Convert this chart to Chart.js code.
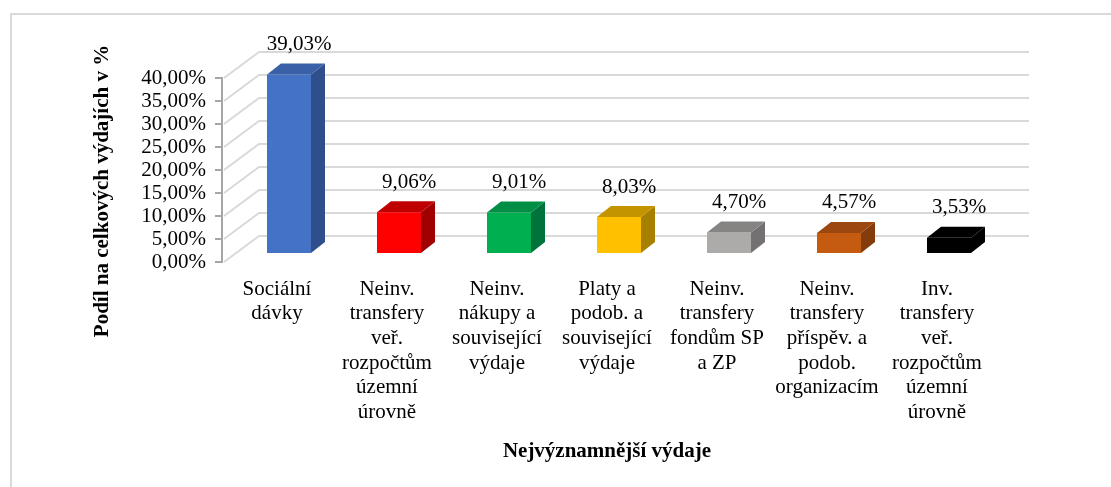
<!DOCTYPE html>
<html>
<head>
<meta charset="utf-8">
<script src="https://cdn.jsdelivr.net/npm/chart.js@4"></script>
<style>
  html, body { margin: 0; padding: 0; background: #fff; }
  #wrap { position: relative; width: 1111px; height: 487px; overflow: hidden; }
</style>
</head>
<body>
<div id="wrap"><canvas id="myChart" width="1111" height="487"></canvas></div>
<script>
'use strict'

// data
const categories = [
  ['Sociální', 'dávky'],
  ['Neinv.', 'transfery', 'veř.', 'rozpočtům', 'územní', 'úrovně'],
  ['Neinv.', 'nákupy a', 'související', 'výdaje'],
  ['Platy a', 'podob. a', 'související', 'výdaje'],
  ['Neinv.', 'transfery', 'fondům SP', 'a ZP'],
  ['Neinv.', 'transfery', 'příspěv. a', 'podob.', 'organizacím'],
  ['Inv.', 'transfery', 'veř.', 'rozpočtům', 'územní', 'úrovně']
];
const shares = [39.03, 9.06, 9.01, 8.03, 4.70, 4.57, 3.53];
const yTickValues = [0, 5, 10, 15, 20, 25, 30, 35, 40];

const yTitle = 'Podíl na celkových výdajích v %';
const xTitle = 'Nejvýznamnější výdaje';

// colours of the boxes: front, side, top
const frontColors = ['#4472c4', '#ff0000', '#00b050', '#ffc000', '#adabaa', '#c55a11', '#000000'];
const sideColors  = ['#2f4f8c', '#a00000', '#00733a', '#a88000', '#737171', '#843c0c', '#000000'];
const topColors   = ['#3a60a8', '#c00000', '#008f44', '#c49400', '#868483', '#9c4710', '#000000'];

const SERIF = "'Liberation Serif', 'Times New Roman', serif";

// fake 3D geometry (pixels)
const DEPTH_X = 37, DEPTH_Y = -26;   // back wall
const SHIFT_X = 12, SHIFT_Y = -8;    // bars stand in the middle of the floor
const BOX_X = 14, BOX_Y = -11;       // depth of one bar

function pct(v) {
    return v.toFixed(2).replace('.', ',') + '%';
}

const box3d = {
    id: 'box3d',
    beforeDraw(chart) {
        const ctx = chart.ctx;
        ctx.save();
        ctx.strokeStyle = '#d9d9d9';
        ctx.lineWidth = 2;
        ctx.strokeRect(11, 14, 1300, 700);
        ctx.restore();
    },
    beforeDatasetsDraw(chart) {
        const {ctx, chartArea: a, scales: {y}} = chart;
        ctx.save();
        ctx.strokeStyle = '#d9d9d9';
        ctx.lineWidth = 2;
        yTickValues.forEach(v => {
            const py = y.getPixelForValue(v);
            ctx.beginPath();
            ctx.moveTo(a.left + 2, py);
            ctx.lineTo(a.left + DEPTH_X, py + DEPTH_Y);
            ctx.lineTo(a.right + DEPTH_X, py + DEPTH_Y);
            ctx.stroke();
        });
        ctx.restore();

        // front faces get drawn by chart.js, moved back a bit
        ctx.save();
        ctx.translate(SHIFT_X, SHIFT_Y);
    },
    afterDatasetsDraw(chart) {
        const ctx = chart.ctx;
        const bars = chart.getDatasetMeta(0).data;

        bars.forEach((bar, i) => {
            const {x, y, base, width} = bar.getProps(['x', 'y', 'base', 'width'], true);
            const l = x - width / 2, r = x + width / 2;

            ctx.fillStyle = sideColors[i];
            ctx.beginPath();
            ctx.moveTo(r, y);
            ctx.lineTo(r + BOX_X, y + BOX_Y);
            ctx.lineTo(r + BOX_X, base + BOX_Y);
            ctx.lineTo(r, base);
            ctx.closePath();
            ctx.fill();

            ctx.fillStyle = topColors[i];
            ctx.beginPath();
            ctx.moveTo(l, y);
            ctx.lineTo(r, y);
            ctx.lineTo(r + BOX_X, y + BOX_Y);
            ctx.lineTo(l + BOX_X, y + BOX_Y);
            ctx.closePath();
            ctx.fill();
        });
        ctx.restore();

        // value labels
        ctx.save();
        ctx.fillStyle = '#000';
        ctx.font = '21px ' + SERIF;
        ctx.textAlign = 'center';
        ctx.textBaseline = 'middle';
        bars.forEach((bar, i) => {
            ctx.fillText(pct(shares[i]), bar.x + 22, bar.y + SHIFT_Y + BOX_Y - 19);
        });

        // y axis title
        ctx.font = 'bold 21px ' + SERIF;
        ctx.translate(103, 191);
        ctx.rotate(-Math.PI / 2);
        ctx.fillText(yTitle, 0, 0);
        ctx.restore();
    }
};

const ctxChart = document.getElementById('myChart').getContext('2d');

const chart = new Chart(ctxChart, {
    type: 'bar',
    data: {
        labels: categories,
        datasets: [{
            data: shares,
            backgroundColor: frontColors,
            borderWidth: 0,
            barPercentage: 0.4,
            categoryPercentage: 1,
            clip: false
        }]
    },
    options: {
        responsive: false,
        animation: false,
        layout: { padding: { top: 78, right: 119, bottom: 0, left: 0 } },
        plugins: {
            legend: { display: false },
            tooltip: { enabled: false }
        },
        scales: {
            x: {
                grid: { display: false, drawTicks: false },
                border: { display: false },
                ticks: {
                    color: '#000',
                    font: { family: SERIF, size: 21, lineHeight: 1.17 },
                    padding: 15,
                    maxRotation: 0,
                    autoSkip: false
                },
                title: {
                    display: true,
                    text: xTitle,
                    color: '#000',
                    font: { family: SERIF, size: 21, weight: 'bold' },
                    padding: { top: 0, bottom: 23 }
                },
                afterFit(scale) { scale.height = 225; }
            },
            y: {
                min: 0,
                max: 40,
                afterBuildTicks(scale) {
                    scale.ticks = yTickValues.map(v => ({ value: v }));
                },
                grid: {
                    drawOnChartArea: false,
                    drawTicks: true,
                    tickLength: 7,
                    color: '#a6a6a6',
                    lineWidth: 2
                },
                border: { display: true, color: '#a6a6a6', width: 2 },
                ticks: {
                    color: '#000',
                    font: { family: SERIF, size: 21 },
                    padding: 9,
                    autoSkip: false,
                    callback: v => pct(v)
                },
                afterFit(scale) { scale.width = 222; }
            }
        }
    },
    plugins: [box3d]
});
</script>
</body>
</html>
